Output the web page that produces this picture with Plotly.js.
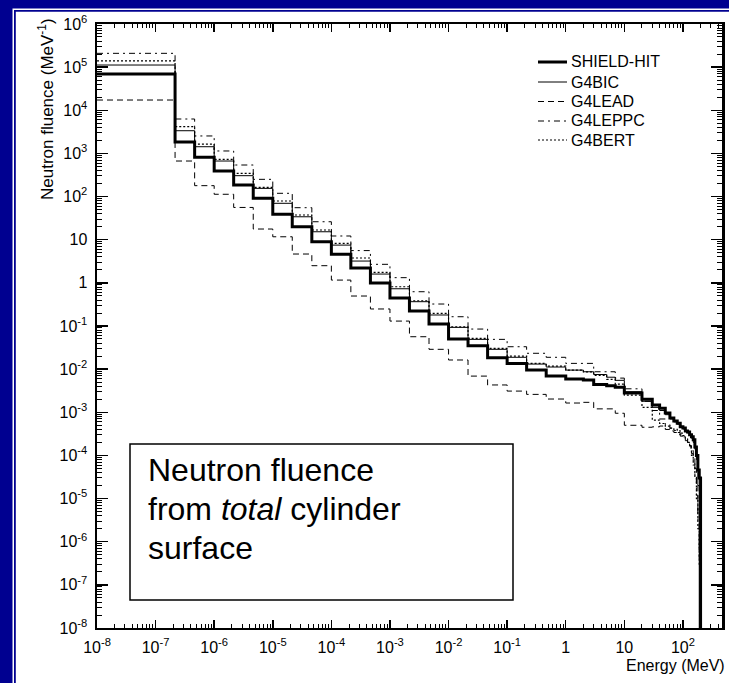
<!DOCTYPE html>
<html><head><meta charset="utf-8">
<script src="https://cdn.plot.ly/plotly-3.0.1.min.js"></script>
<style>html,body{margin:0;padding:0;background:#fff;}#chart{width:729px;height:683px;}</style>
</head><body><div id="chart"></div>
<script>
// bin edges (MeV)
const binEdges = [1e-8, 2.15e-7, 4.64e-7, 1e-6, 2.15e-6, 4.64e-6, 1e-5, 2.15e-5, 4.64e-5, 1e-4,
  2.15e-4, 4.64e-4, 1e-3, 2.15e-3, 4.64e-3, 1e-2, 2.15e-2, 4.64e-2, 0.1, 0.215, 0.464, 1,
  2, 3, 5, 7, 10, 20, 30, 40, 50, 60, 70, 80, 90, 100, 110, 120, 130, 140, 150, 160, 170, 180, 190, 200, 210];

const shieldHit = [6.9e4, 1840, 813, 391, 185, 91, 38.8, 20, 9.0, 4.6, 2.2, 0.99, 0.445, 0.222, 0.111, 0.050, 0.035, 0.0184, 0.0136, 0.0095, 0.0069,
  0.0059, 0.0056, 0.0044, 0.0041, 0.0038,
  0.0028, 0.0020, 0.00147, 0.00124, 0.00096, 0.00074, 0.00063, 0.00056, 0.00046, 0.00043, 0.00037, 0.00035, 0.0003, 0.00027, 0.00023, 0.000157, 0.0001, 4.6e-5, 3.0e-5,
  1e-10];
const g4bic = [1.12e5, 3360, 1430, 667, 305, 155, 69.8, 34, 15.3, 7.5, 3.2, 1.6, 0.73, 0.366, 0.18, 0.093, 0.049, 0.0288, 0.0188, 0.0131, 0.0112,
  0.0095, 0.0087, 0.0075, 0.0065, 0.0055,
  0.0030, 0.0018, 0.0013, 0.0011, 0.00088, 0.0007, 0.0006, 0.00053, 0.00045, 0.00041, 0.00036, 0.00033, 0.00029, 0.00025, 0.0002, 0.00014, 8e-5, 2e-5, 1e-10,
  1e-10];
const g4lead = [1.73e4, 667, 179, 113, 56, 17.7, 11.7, 4.66, 2.5, 1.16, 0.495, 0.248, 0.13, 0.0564, 0.0288, 0.0163, 0.0069, 0.0043, 0.0031, 0.0026, 0.00203,
  0.00164, 0.0017, 0.0012, 0.0012, 0.00095,
  0.0005, 0.00045, 0.00046, 0.00048, 0.0004, 0.00037, 0.00034, 0.00031, 0.00028, 0.00025, 0.00022, 0.0002, 0.00017, 0.00013, 9e-5, 5e-5, 2e-5, 5e-6, 4e-7,
  5e-8];
const g4leppc = [2.09e5, 6280, 2540, 1140, 539, 251, 119, 55.2, 26.1, 12.2, 5.6, 2.69, 1.32, 0.623, 0.323, 0.164, 0.085, 0.049, 0.0331, 0.0233, 0.0188,
  0.0136, 0.0136, 0.0087, 0.0087, 0.0062,
  0.0035, 0.0018, 0.0011, 0.0007, 0.00052, 0.00043, 0.00038, 0.00034, 0.0003, 0.00027, 0.00024, 0.0002, 0.00016, 0.00011, 7e-5, 3.5e-5, 1.2e-5, 3e-6, 5e-7,
  1e-10];
const g4bert = [1.39e5, 4160, 1650, 731, 346, 164, 78.9, 37.4, 16.8, 8.26, 3.77, 1.75, 0.813, 0.385, 0.197, 0.096, 0.0518, 0.0303, 0.0201, 0.0136, 0.0118,
  0.0095, 0.0086, 0.0072, 0.0058, 0.0045,
  0.0025, 0.0013, 0.00066, 0.00055, 0.00048, 0.00043, 0.0004, 0.00037, 0.00033, 0.00029, 0.00025, 0.0002, 0.00015, 0.0001, 6e-5, 3e-5, 1e-5, 2e-6, 3e-7,
  1e-10];

const seriesNames = ['SHIELD-HIT', 'G4BIC', 'G4LEAD', 'G4LEPPC', 'G4BERT'];
const seriesWidths = [3, 1, 1, 1, 1.2];
const seriesDashes = ['solid', 'solid', '6px,4px', '6px,4px,2px,4px', '2px,2px'];

const xTickVals = [1e-8, 1e-7, 1e-6, 1e-5, 1e-4, 1e-3, 1e-2, 1e-1, 1, 10, 100];
const xTickText = ['10<sup>-8</sup>', '10<sup>-7</sup>', '10<sup>-6</sup>', '10<sup>-5</sup>', '10<sup>-4</sup>', '10<sup>-3</sup>', '10<sup>-2</sup>', '10<sup>-1</sup>', '1', '10', '10<sup>2</sup>'];
const yTickVals = [1e-8, 1e-7, 1e-6, 1e-5, 1e-4, 1e-3, 1e-2, 1e-1, 1, 10, 100, 1e3, 1e4, 1e5, 1e6];
const yTickText = ['10<sup>-8</sup>', '10<sup>-7</sup>', '10<sup>-6</sup>', '10<sup>-5</sup>', '10<sup>-4</sup>', '10<sup>-3</sup>', '10<sup>-2</sup>', '10<sup>-1</sup>', '1', '10', '10<sup>2</sup>', '10<sup>3</sup>', '10<sup>4</sup>', '10<sup>5</sup>', '10<sup>6</sup>'];

const allSeries = [shieldHit, g4bic, g4lead, g4leppc, g4bert];

function stepTrace(i) {
  const vals = allSeries[i];
  return {x: binEdges.slice(), y: vals.concat([vals[vals.length - 1]]), name: seriesNames[i],
    type: 'scatter', mode: 'lines', showlegend: false, hoverinfo: 'skip',
    line: {shape: 'hv', color: 'black', width: seriesWidths[i], dash: seriesDashes[i]}};
}
const traces = seriesNames.map((n, i) => stepTrace(i));

const L = 97, R = 722, T = 24, B = 628;
const px = p => (p - L) / (R - L);
const py = p => (B - p) / (B - T);
const navy = '#000090';
const FONT = 'Liberation Sans, Arial, Helvetica, sans-serif';

function rect(x0, y0, x1, y1, fill, line) {
  return {type: 'rect', xref: 'paper', yref: 'paper', x0: px(x0), x1: px(x1), y0: py(y0), y1: py(y1),
    fillcolor: fill, line: line || {width: 0}, layer: 'above'};
}

const shapes = [
  rect(0, 0, 12.5, 683, navy),
  rect(0, 0, 729, 8.5, navy),
  rect(14, 10, 15.8, 683, navy),
  rect(14, 10, 729, 11.8, navy),
  {type: 'rect', xref: 'paper', yref: 'paper', x0: px(130), x1: px(513), y0: py(600), y1: py(444),
    fillcolor: 'white', line: {color: 'black', width: 1.5}, layer: 'above'}
];
const annotations = [
  {xref: 'paper', yref: 'paper', x: px(46), y: py(109), xanchor: 'center', yanchor: 'middle', textangle: -90,
    text: 'Neutron fluence (MeV<sup>-1</sup>)', showarrow: false, font: {family: FONT, size: 17, color: 'black'}},
  {xref: 'paper', yref: 'paper', x: px(727), y: py(665), xanchor: 'right', yanchor: 'middle',
    text: 'Energy (MeV)', showarrow: false, font: {family: FONT, size: 16, color: 'black'}},
  {xref: 'paper', yref: 'paper', x: px(146), y: py(470), xanchor: 'left', yanchor: 'middle', align: 'left',
    text: 'Neutron fluence', showarrow: false, font: {family: FONT, size: 32, color: 'black'}},
  {xref: 'paper', yref: 'paper', x: px(146), y: py(509), xanchor: 'left', yanchor: 'middle', align: 'left',
    text: 'from <i>total</i> cylinder', showarrow: false, font: {family: FONT, size: 32, color: 'black'}},
  {xref: 'paper', yref: 'paper', x: px(146), y: py(548), xanchor: 'left', yanchor: 'middle', align: 'left',
    text: 'surface', showarrow: false, font: {family: FONT, size: 32, color: 'black'}}
];
// legend (drawn by hand for exact row spacing)
const legendRows = [62, 82, 101.5, 121, 140];
seriesNames.forEach((n, i) => {
  shapes.push({type: 'line', xref: 'paper', yref: 'paper', x0: px(538), x1: px(567), y0: py(legendRows[i]), y1: py(legendRows[i]),
    line: {color: 'black', width: seriesWidths[i], dash: seriesDashes[i]}, layer: 'above'});
  annotations.push({xref: 'paper', yref: 'paper', x: px(569), y: py(legendRows[i]), xanchor: 'left', yanchor: 'middle',
    text: n, showarrow: false, font: {family: FONT, size: 16, color: 'black'}});
});

const layout = {
  width: 729, height: 683, autosize: false,
  margin: {l: L, r: 729 - R, t: T, b: 683 - B, pad: 0},
  paper_bgcolor: 'white', plot_bgcolor: 'white',
  font: {family: FONT, color: 'black', size: 16},
  showlegend: false,
  xaxis: {type: 'log', range: [-8, 2.667], showgrid: false, zeroline: false,
    showline: true, linecolor: 'black', linewidth: 2, mirror: 'ticks',
    ticks: 'inside', ticklen: 8, tickwidth: 1.5, tickcolor: 'black',
    tickmode: 'array', tickvals: xTickVals, ticktext: xTickText,
    tickfont: {family: FONT, size: 16, color: 'black'}, ticklabelstandoff: 4,
    minor: {ticks: 'inside', ticklen: 4, tickwidth: 1, tickcolor: 'black', dtick: 'D1', showgrid: false}},
  yaxis: {type: 'log', range: [-8, 6], showgrid: false, zeroline: false,
    showline: true, linecolor: 'black', linewidth: 2.5, mirror: 'ticks',
    ticks: 'inside', ticklen: 11, tickwidth: 1.5, tickcolor: 'black',
    tickmode: 'array', tickvals: yTickVals, ticktext: yTickText,
    tickfont: {family: FONT, size: 16, color: 'black'}, ticklabelstandoff: 4,
    minor: {ticks: 'inside', ticklen: 5, tickwidth: 1, tickcolor: 'black', dtick: 'D1', showgrid: false}},
  shapes: shapes,
  annotations: annotations
};

Plotly.newPlot('chart', traces, layout, {staticPlot: true, displayModeBar: false});
</script></body></html>
